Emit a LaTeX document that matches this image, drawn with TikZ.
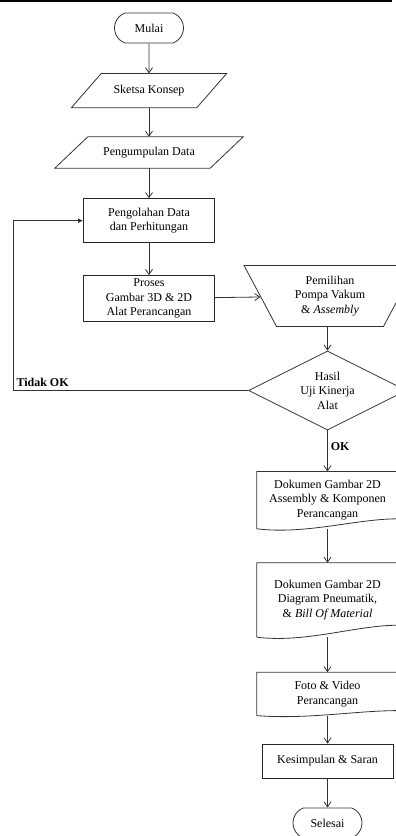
\documentclass[tikz,border=0pt]{standalone}
\usepackage{fontspec}
\setmainfont{Liberation Serif}
\usetikzlibrary{arrows.meta, positioning, shapes.geometric, shapes.misc, calc}
\tikzset{
  term/.style={draw=black!80, line width=0.8pt, rounded rectangle, rounded rectangle arc length=140, minimum width=71pt, minimum height=30pt, inner sep=1pt},
  io/.style={align=center, inner sep=1pt},
  shapeline/.style={draw=black!80, line width=0.8pt},
  box/.style={draw=black!85, line width=0.9pt, align=center, minimum width=131pt, inner sep=1pt},
  manual/.style={draw=black!80, line width=0.8pt, trapezium, trapezium stretches, shape border rotate=180, align=center, inner sep=1pt},
  decision/.style={draw=black!80, line width=0.8pt, diamond, aspect=2, align=center, inner sep=0pt, minimum width=158pt, minimum height=79pt},
  doc/.style={align=center, minimum width=141pt, inner sep=1pt},
  line/.style={-{Straight Barb[length=5pt,width=7pt]}, draw=black!80, line width=0.8pt},
  fbline/.style={-{Latex[length=5pt,width=5pt]}, draw=black!80, line width=0.8pt},
  note/.style={font=\fontsize{12}{14.5}\selectfont\bfseries, inner sep=3pt}
}

\begin{document}
\begin{tikzpicture}[x=1pt, y=-1pt, font=\fontsize{12}{14.5}\selectfont]
    \useasboundingbox (0,0) rectangle (396,836);
    \draw[line width=1.5pt] (0,0.75) -- (392,0.75);

    % left column
    \node[term] (mulai) at (149,28) {Mulai};
    \node[io, below=30pt of mulai, minimum width=125pt, minimum height=34pt] (sketsa) {Sketsa Konsep};
    \node[io, below=29pt of sketsa, minimum width=155pt, minimum height=31pt] (kumpul) {Pengumpulan Data};
    \node[box, below=30pt of kumpul, minimum height=44pt] (olah) {Pengolahan Data\\dan Perhitungan};
    \node[box, below=32pt of olah, minimum height=46pt] (proses) {Proses\\Gambar 3D \& 2D\\Alat Perancangan};

    % right column
    \node[manual, trapezium left angle=62.3, trapezium right angle=62.3, minimum width=172pt, minimum height=61pt] (pilih) at (330,296) {Pemilihan\\Pompa Vakum\\\& \textit{Assembly}};
    \node[decision] (hasil) at (327.5,390.5) {Hasil\\Uji Kinerja\\Alat};
    \node[doc, below=41pt of hasil, minimum height=57pt] (doc1) {Dokumen Gambar 2D\\Assembly \& Komponen\\Perancangan};
    \node[doc, below=34pt of doc1, minimum height=74pt] (doc2) {Dokumen Gambar 2D\\Diagram Pneumatik,\\\& \textit{Bill Of Material}};
    \node[doc, below=35pt of doc2, minimum height=43pt] (doc3) {Foto \& Video\\Perancangan};
    \node[box, below=28pt of doc3, minimum height=34pt] (simpul) {Kesimpulan \& Saran};
    \node[term, below=29pt of simpul] (selesai) {Selesai};

    % parallelogram outlines
    \foreach \p/\s in {sketsa/15, kumpul/16.5} {
      \draw[shapeline] ($(\p.south west)+(-\s,0)$) -- ($(\p.north west)+(\s,0)$) -- ($(\p.north east)+(\s,0)$) -- ($(\p.south east)+(-\s,0)$) -- cycle;
    }
    % document outlines
    \foreach \d/\a/\b in {doc1/10/6, doc2/12/6, doc3/5/4} {
      \draw[shapeline] (\d.south west) -- (\d.north west) -- (\d.north east) -- ($(\d.south east)+(0,-\a)$)
        .. controls ($(\d.south west)!0.7!(\d.south east)+(0,-\a)$) and ($(\d.south west)!0.35!(\d.south east)+(0,\b)$) .. (\d.south west);
    }

    \draw[line] (mulai) -- (sketsa);
    \draw[line] (sketsa) -- (kumpul);
    \draw[line] (kumpul) -- (olah);
    \draw[line] (olah) -- (proses);
    \draw[line] (proses) -- (pilih);
    \draw[line] (hasil.north |- pilih.south) -- (hasil);
    \draw[line] (hasil) -- node[note, right, pos=0.4] {OK} (doc1);
    \draw[line] (doc1) -- (doc2);
    \draw[line] (doc2) -- (doc3);
    \draw[line] (doc3) -- (simpul);
    \draw[line] (simpul) -- (selesai);
    \draw[fbline] (hasil.west) -- ++(-235,0) node[note, above right] {Tidak OK} |- (olah.west);
\end{tikzpicture}
\end{document}
